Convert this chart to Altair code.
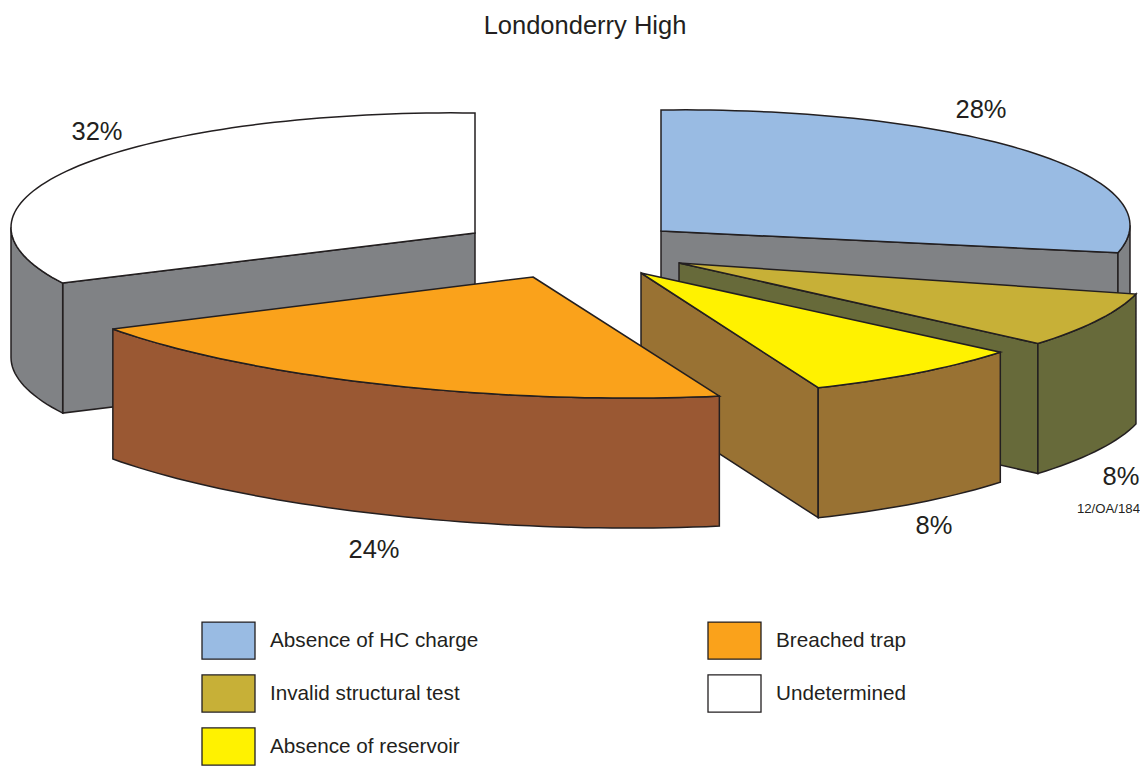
import math
import altair as alt

# Chart content
TITLE = "Londonderry High"
CATEGORIES = ["Absence of HC charge", "Invalid structural test", "Absence of reservoir",
              "Breached trap", "Undetermined"]
SHARES = [28, 8, 8, 24, 32]
LABELS = ["28%", "8%", "8%", "24%", "32%"]
NOTE = "12/OA/184"

# Colours
TOP_COLOURS = ["#99BBE3", "#C7B037", "#FFF200", "#FAA21B", "#FFFFFF"]
SIDE_COLOURS = ["#808285", "#676A3A", "#997233", "#9A5833", "#808285"]

# Layout of the exploded, tilted pie (page pixels)
APEX_X = [661, 679, 641, 533, 475]
APEX_Y = [231, 263, 273, 277, 233]
RADIUS_X = [469, 472, 467, 520, 464]
RADIUS_Y = [121, 124, 124, 119, 120]
SKEW = [-0.012, 0, 0, 0.043, 0.012]
# the drawn slices stray a little from their nominal angles (degrees)
TRIM_START = [0, 3.7, 0.1, 0.6, -2.1]
TRIM_END = [2.2, 0.9, -0.7, -10.9, 0]
DEPTH = 130
DRAW_ORDER = [4, 0, 1, 2, 3]
MARGIN = 8
LABEL_X = [981, 1121, 934, 374, 97]
LABEL_Y = [110, 477, 526, 550, 132]


def rim(i, start, end):
    steps = max(2, int(abs(end - start) / 1.5))
    pts = []
    for k in range(steps + 1):
        a = math.radians(start + (end - start) * k / steps)
        dx = RADIUS_X[i] * math.sin(a)
        dy = -RADIUS_Y[i] * math.cos(a) + SKEW[i] * dx
        pts.append([APEX_X[i] - MARGIN + dx, APEX_Y[i] - MARGIN + dy])
    return pts


def wall(pts):
    lower = [[x, y + DEPTH] for x, y in reversed(pts)]
    return pts + lower + [pts[0]]


def shape(coords, part):
    return {"type": "Feature", "properties": {"part": part},
            "geometry": {"type": "Polygon", "coordinates": [coords]}}


features = []
edges = [0]
for s in SHARES:
    edges.append(edges[-1] + s * 3.6)
for i in DRAW_ORDER:
    start, end = edges[i] + TRIM_START[i], edges[i + 1] + TRIM_END[i]
    centre = [APEX_X[i] - MARGIN, APEX_Y[i] - MARGIN]
    side = CATEGORIES[i] + " side"
    if start > 180:
        features.append(shape(wall([centre, rim(i, start, start)[0]]), side))
    if end < 180:
        features.append(shape(wall([centre, rim(i, end, end)[0]]), side))
    lo, hi = max(start, 90), min(end, 270)
    if lo < hi:
        features.append(shape(wall(rim(i, lo, hi)), side))
    arc = rim(i, start, end)
    features.append(shape([centre] + arc + [centre], CATEGORIES[i]))

domain = CATEGORIES + [c + " side" for c in CATEGORIES]
palette = TOP_COLOURS + SIDE_COLOURS

pie = (
    alt.Chart(alt.Data(values=features))
    .mark_geoshape(stroke="#231F20", strokeWidth=1.5, strokeJoin="miter")
    .encode(
        fill=alt.Fill(
            "properties.part:N",
            scale=alt.Scale(domain=domain, range=palette),
            legend=alt.Legend(
                title=None,
                values=CATEGORIES,
                orient="none",
                legendX=193,
                legendY=605,
                direction="vertical",
                columns=2,
                columnPadding=226,
                rowPadding=4,
                padding=0,
                symbolType="M-1,-0.7H1V0.7H-1Z",
                symbolSize=2809,
                symbolStrokeColor="#231F20",
                symbolStrokeWidth=1.3,
                symbolOpacity=1,
                labelFont="Liberation Sans",
                labelFontSize=20.7,
                labelColor="#231F20",
                labelOffset=14,
                labelLimit=300,
            ),
        )
    )
    .project(type="identity", scale=1, translate=[0, 0])
)

label_rows = [
    {"label": t, "x": x - MARGIN, "y": y - MARGIN}
    for t, x, y in zip(LABELS, LABEL_X, LABEL_Y)
]
labels = (
    alt.Chart(alt.Data(values=label_rows))
    .mark_text(font="Liberation Sans", fontSize=25.5, color="#231F20")
    .encode(
        x=alt.X("x:Q", scale=None, axis=None),
        y=alt.Y("y:Q", scale=None, axis=None),
        text="label:N",
    )
)

note = (
    alt.Chart(alt.Data(values=[{"label": NOTE, "x": 1132, "y": 501}]))
    .mark_text(font="Liberation Sans", fontSize=13.2, color="#231F20", align="right")
    .encode(
        x=alt.X("x:Q", scale=None, axis=None),
        y=alt.Y("y:Q", scale=None, axis=None),
        text="label:N",
    )
)

chart = (
    alt.layer(pie, labels, note)
    .properties(
        width=1132,
        height=758,
        padding=0,
        background="white",
        autosize=alt.AutoSizeParams(type="none"),
        title=alt.TitleParams(
            TITLE,
            font="Liberation Sans",
            fontSize=25.5,
            fontWeight="normal",
            color="#231F20",
            anchor="middle",
            dx=11,
            offset=-31,
        ),
    )
    .configure_view(strokeWidth=0, stroke=None)
)

chart.save("out.html", embed_options={"renderer": "svg", "actions": False})
